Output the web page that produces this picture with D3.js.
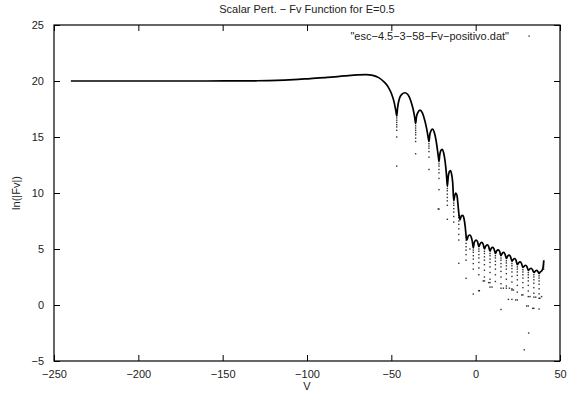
<!DOCTYPE html>
<html>
<head>
<meta charset="utf-8">
<script src="https://d3js.org/d3.v7.min.js"></script>
<style>
body{margin:0;background:#fff;}
text{font-family:'Liberation Sans',Arial,sans-serif;fill:#222;}
</style>
</head>
<body>
<script>
var xTicks=[-250,-200,-150,-100,-50,0,50];
var yTicks=[-5,0,5,10,15,20,25];

// main curve of the dat file (V, ln|Fv|)
var backbone=[
[-240,20.0],[-200,20.0],[-160,20.0],[-130,20.02],[-118,20.05],[-108,20.12],[-98,20.22],[-88,20.32],
[-78,20.45],[-70,20.55],[-65,20.57],[-61,20.5],[-57.5,20.3],[-54.5,19.95],[-52,19.5],[-50,18.9],
[-48.5,18.2],[-47.4,17.4],[-46.8,16.9],
[-46.3,17.6],[-45.3,18.4],[-43.8,18.8],[-41.9,18.95],[-40,18.75],[-38.4,18.2],[-37.1,17.5],[-36.2,16.8],[-35.6,16.2],
[-35.1,16.8],[-34.2,17.2],[-33.0,17.4],[-31.6,17.15],[-30.2,16.5],[-29,15.7],[-28.2,15.0],[-27.7,14.6],
[-27.2,15.2],[-26.5,15.55],[-25.6,15.7],[-24.6,15.45],[-23.6,14.8],[-22.7,13.9],[-22.1,13.2],[-21.75,12.8],
[-21.3,13.4],[-20.6,13.8],[-19.9,13.9],[-19.0,13.6],[-18.1,12.8],[-17.3,11.6],[-16.8,10.6],
[-16.3,11.4],[-15.6,11.9],[-15.0,12.0],[-14.3,11.7],[-13.6,10.9],[-13.0,9.3],
[-12.5,9.7],[-11.8,10.0],[-11.1,9.8],[-10.5,9.0],[-10.0,8.2],
[-9.3,7.6],[-8.5,7.95],[-7.7,8.0],[-6.9,7.7],[-6.2,7.0],[-5.7,6.2],
[-5.2,5.8],[-4.3,6.2],[-3.4,6.25],[-2.6,6.05],[-1.9,5.6],[-1.4,5.1],
[-0.8,5.6],[0.2,5.8],[1.1,5.65],[1.9,5.2],
[2.6,5.45],[3.6,5.6],[4.4,5.45],[5.2,5.0],
[5.9,5.25],[6.9,5.36],[7.7,5.22],[8.5,4.8],
[9.2,5.05],[10.1,5.15],[10.9,5.0],[11.7,4.6],
[12.4,4.82],[13.4,4.92],[14.2,4.78],[15.0,4.4],
[15.7,4.6],[16.6,4.7],[17.4,4.55],[18.2,4.15],
[18.9,4.35],[19.9,4.45],[20.7,4.3],[21.5,3.9],
[22.2,4.05],[23.1,4.15],[23.9,4.0],[24.7,3.6],
[25.4,3.75],[26.4,3.85],[27.2,3.7],[28.0,3.35],
[28.7,3.45],[29.6,3.55],[30.4,3.42],[31.2,3.1],
[31.9,3.2],[32.9,3.28],[33.7,3.15],[34.5,2.9],
[35.2,3.0],[36.1,3.1],[36.9,3.0],[37.6,2.8],
[38.3,2.95],[39.2,3.05],[39.9,3.3],[40.4,4.0]
];

// points scattered below each zero of Fv
var dipV=[-46.8,-35.6,-27.7,-21.75,-16.8,-13.0,-10.0,-5.7,-1.4,
1.9,5.2,8.5,11.7,15.0,18.2,21.5,24.7,28.0,31.2,34.5,37.6,40.3];
var dipLn=[
[16.9,16.7,16.5,16.3,16.1,15.9,15.6,15.0,12.4],
[16.0,15.8,15.6,15.4,15.2,14.9,14.6,13.5],
[14.4,14.2,14.0,13.7,13.2,12.1],
[12.6,12.4,12.1,11.8,11.3,10.3,8.57],
[10.4,10.2,9.9,9.6,9.3,8.9,7.65],
[9.1,8.9,8.6,8.3,7.9,7.4],
[8.0,7.8,7.5,7.2,6.8,6.3,5.8,3.72],
[6.0,5.8,5.5,5.2,4.9,4.5,4.0,2.38],
[4.9,4.7,4.4,4.1,3.7,3.2,0.98],
[5.0,4.8,4.5,4.2,3.8,3.3,2.7,1.28],
[4.8,4.6,4.3,4.0,3.6,3.1,2.5,2.15],
[4.6,4.4,4.1,3.8,3.4,2.9,2.3,2.0,1.6],
[4.4,4.2,3.9,3.6,3.2,2.7,2.1],
[4.2,4.0,3.7,3.4,3.0,2.5,1.9,1.5,-0.4],
[3.95,3.75,3.5,3.2,2.8,2.3,1.7,1.5],
[3.7,3.5,3.25,2.95,2.55,2.05,1.45,1.34,0.5],
[3.4,3.2,2.95,2.65,2.25,1.75,1.15,0.45],
[3.15,2.95,2.7,2.4,2.0,1.55,0.9],
[2.9,2.7,2.45,2.15,1.75,1.25,0.75,-0.09],
[2.7,2.5,2.25,1.95,1.55,1.05,0.7,-0.3],
[2.6,2.4,2.15,1.85,1.45,1.0,0.6,-0.36],
[3.2,3.4,3.6,3.8]
];
var strays=[[-22.2,8.57],[28.8,-4.0],[31.4,-2.5],[19.4,0.5],[23.7,0.45],[30.2,-0.09],[33.8,-0.3],
[38.1,0.6],[4.5,2.15],[7.7,2.0],[9.7,1.6],[16.4,1.5],[20.0,1.5],[22.4,1.34],[27.3,0.9],[32.2,0.75],
[35.6,0.7],[39.1,0.75],[2.2,1.28],[-3.4,5.0]];

var width=568;
var height=397;

var svg=d3.select('body')
.append('svg')
.attr('width',width)
.attr('height',height);

var xScale=d3.scaleLinear()
.domain([-250,50])
.range([54,560]);

var yScale=d3.scaleLinear()
.domain([-5,25])
.range([361,25]);

// axes with inward ticks on all four sides
var xAxisBottom=d3.axisBottom(xScale).tickValues(xTicks).tickSizeInner(-6).tickSizeOuter(0).tickPadding(9);
var xAxisTop=d3.axisTop(xScale).tickValues(xTicks).tickSizeInner(-6).tickSizeOuter(0).tickFormat('');
var yAxisLeft=d3.axisLeft(yScale).tickValues(yTicks).tickSizeInner(-6).tickSizeOuter(0).tickPadding(10);
var yAxisRight=d3.axisRight(yScale).tickValues(yTicks).tickSizeInner(-6).tickSizeOuter(0).tickFormat('');

function styleAxis(g){
    g.select('.domain').remove();
    g.selectAll('line').attr('stroke','#000');
    g.selectAll('text').style('font-size','11px').attr('fill','#222')
    .style('font-family',"'Liberation Sans',Arial,sans-serif");
}

svg.append('g').attr('transform','translate(0,361)').call(xAxisBottom).call(styleAxis);
svg.append('g').attr('transform','translate(0,25)').call(xAxisTop).call(styleAxis);
svg.append('g').attr('transform','translate(54,0)').call(yAxisLeft).call(styleAxis);
svg.append('g').attr('transform','translate(560,0)').call(yAxisRight).call(styleAxis);

svg.append('rect')
.attr('x',xScale(-250))
.attr('y',yScale(25))
.attr('width',xScale(50)-xScale(-250))
.attr('height',yScale(-5)-yScale(25))
.attr('fill','none')
.attr('stroke','#000')
.attr('stroke-width',1.2);

var plot=svg.append('g');

var line=d3.line()
.x((d)=>xScale(d[0]))
.y((d)=>yScale(d[1]))
.curve(d3.curveMonotoneX);

plot.append('path')
.datum(backbone)
.attr('d',line)
.attr('fill','none')
.attr('stroke','#000')
.attr('stroke-width',1.7);

var dots=[];
dipV.forEach(function(v,i){
    dipLn[i].forEach(function(l){dots.push([v,l]);});
});
strays.forEach(function(p){dots.push(p);});

plot.selectAll('rect.dot')
.data(dots)
.enter()
.append('rect')
.attr('class','dot')
.attr('x',(d)=>xScale(d[0])-0.7)
.attr('y',(d)=>yScale(d[1])-0.7)
.attr('width',1.4)
.attr('height',1.4)
.attr('fill','#000')
.attr('opacity',0.8);

// title, labels, key
svg.append('text')
.attr('x',307)
.attr('y',13)
.attr('text-anchor','middle')
.style('font-size','11px')
.text('Scalar Pert. \u2212 Fv Function for E=0.5');

svg.append('text')
.attr('transform','translate(20,193) rotate(-90)')
.attr('text-anchor','middle')
.style('font-size','11px')
.text('ln(|Fv|)');

svg.append('text')
.attr('x',307)
.attr('y',390)
.attr('text-anchor','middle')
.style('font-size','11px')
.text('V');

svg.append('text')
.attr('x',509)
.attr('y',40)
.attr('text-anchor','end')
.style('font-size','11px')
.text('"esc\u22124.5\u22123\u221258\u2212Fv\u2212positivo.dat"');

svg.append('rect')
.attr('x',528.5)
.attr('y',35.5)
.attr('width',1.2)
.attr('height',1.2)
.attr('fill','#000');
</script>
</body>
</html>
